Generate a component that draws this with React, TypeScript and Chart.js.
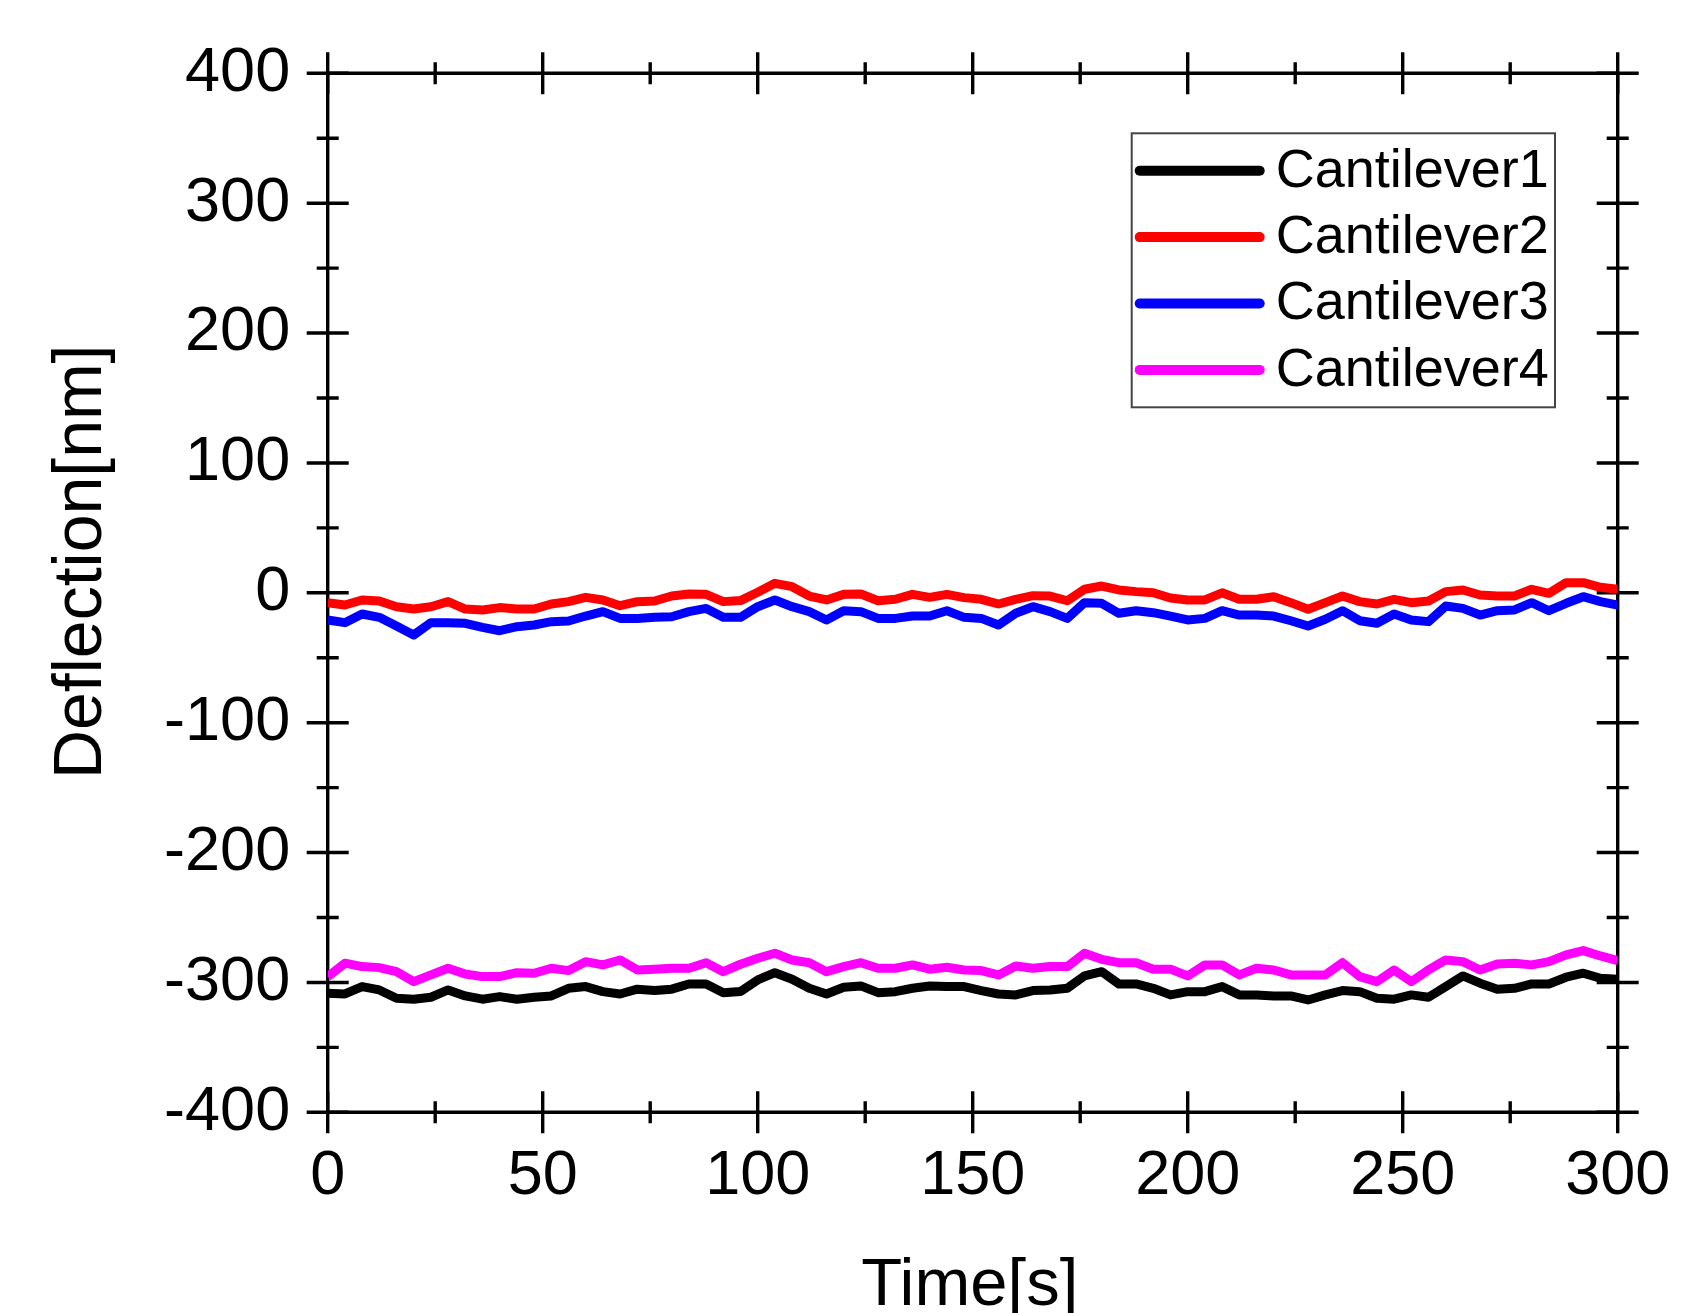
import React, { useEffect, useRef } from "react";
import { Chart, registerables } from "chart.js";

Chart.register(...registerables);

const times = [
  0, 4, 8, 12, 16, 20, 24, 28, 32, 36, 40, 44, 48, 52, 56, 60, 64, 68, 72, 76,
  80, 84, 88, 92, 96, 100, 104, 108, 112, 116, 120, 124, 128, 132, 136, 140, 144, 148, 152, 156,
  160, 164, 168, 172, 176, 180, 184, 188, 192, 196, 200, 204, 208, 212, 216, 220, 224, 228, 232, 236,
  240, 244, 248, 252, 256, 260, 264, 268, 272, 276, 280, 284, 288, 292, 296, 300,
];

const cantilever1 = [
  -308.3, -308.9, -303.2, -305.8, -312.2, -312.9, -311.4, -305.8, -310.4, -312.9,
  -310.9, -312.9, -311.4, -310.4, -304.5, -303.2, -307.1, -308.9, -305.2, -306.3,
  -305.2, -301.2, -301.2, -307.9, -307.0, -298.1, -292.5, -297.5, -304.5, -308.9,
  -303.7, -302.7, -307.9, -307.1, -304.5, -302.7, -303.2, -303.2, -306.3, -308.9,
  -309.6, -306.3, -305.8, -304.5, -295.0, -291.7, -301.2, -301.2, -304.5, -309.6,
  -307.1, -307.1, -303.2, -309.6, -309.6, -310.4, -310.4, -313.5, -309.6, -306.3,
  -307.1, -312.2, -312.9, -309.6, -311.4, -303.2, -295.0, -300.6, -305.2, -304.5,
  -301.2, -301.2, -296.0, -292.9, -296.8, -297.5,
];

const cantilever2 = [
  -7.6, -9.4, -5.5, -6.3, -10.7, -12.5, -10.7, -6.8, -12.5, -13.2,
  -11.4, -12.5, -12.5, -8.6, -6.8, -3.5, -5.5, -9.9, -6.8, -6.3,
  -2.5, -0.9, -1.2, -6.8, -6.0, 0.4, 7.3, 4.7, -2.5, -5.5,
  -1.2, -0.9, -6.1, -5.0, -1.2, -3.5, -1.2, -3.7, -5.0, -8.6,
  -5.0, -2.2, -2.5, -6.1, 2.7, 5.2, 2.2, 0.9, 0.0, -4.0,
  -5.5, -5.5, 0.0, -5.0, -5.0, -3.0, -7.6, -12.7, -7.6, -2.5,
  -6.8, -8.6, -5.0, -7.6, -6.3, 0.9, 2.2, -1.7, -2.5, -2.5,
  2.7, -0.4, 7.8, 7.8, 4.2, 2.7,
];

const cantilever3 = [
  -20.9, -23.0, -16.3, -18.9, -25.6, -32.5, -23.0, -23.0, -23.5, -26.6,
  -29.2, -26.1, -24.8, -22.2, -21.7, -17.9, -14.5, -19.7, -19.7, -18.9,
  -18.4, -14.5, -12.0, -18.9, -18.9, -10.7, -5.5, -10.7, -14.5, -20.9,
  -13.8, -14.5, -19.7, -19.7, -17.9, -17.9, -13.8, -18.9, -19.7, -24.8,
  -15.8, -10.7, -14.5, -19.7, -7.6, -8.1, -15.8, -13.8, -15.3, -17.9,
  -20.9, -19.7, -13.8, -17.1, -17.1, -17.9, -21.5, -25.6, -20.4, -13.8,
  -21.5, -23.5, -16.3, -20.9, -22.2, -10.2, -12.0, -17.1, -13.8, -13.2,
  -7.6, -13.8, -8.1, -3.0, -6.8, -9.4,
];

const cantilever4 = [
  -295.5, -285.2, -287.8, -288.6, -291.7, -299.4, -294.2, -289.1, -293.5, -295.5,
  -295.5, -292.5, -292.9, -289.1, -290.9, -284.0, -286.5, -282.7, -290.4, -289.8,
  -289.1, -289.1, -284.8, -291.7, -286.0, -281.4, -277.5, -282.7, -284.8, -291.7,
  -287.8, -284.8, -289.1, -289.1, -286.5, -289.8, -288.3, -290.4, -290.9, -294.2,
  -287.3, -289.1, -287.8, -287.8, -277.5, -282.2, -284.8, -284.8, -289.8, -289.8,
  -295.0, -286.5, -286.5, -294.2, -289.1, -290.4, -294.2, -294.2, -294.2, -284.8,
  -295.5, -299.4, -290.4, -299.4, -290.4, -282.7, -284.0, -290.4, -285.8, -285.2,
  -286.5, -284.0, -278.8, -275.5, -279.6, -283.2,
];

const seriesLabels = ["Cantilever1", "Cantilever2", "Cantilever3", "Cantilever4"];
const seriesColors = ["#000000", "#ff0000", "#0000ff", "#ff00ff"];
const xTitle = "Time[s]";
const yTitle = "Deflection[nm]";

const FONT = "'Liberation Sans', Arial, Helvetica, sans-serif";

const framePlugin = {
  id: "originFrame",
  beforeDatasetsDraw(chart: any) {
    const { ctx, chartArea } = chart;
    const { left, right, top, bottom } = chartArea;
    const xs = chart.scales.x;
    const ys = chart.scales.y;
    const MAJ = 21;
    const MIN = 11;
    ctx.save();
    ctx.strokeStyle = "#000";
    ctx.lineWidth = 3.4;
    ctx.lineCap = "butt";
    ctx.beginPath();
    ctx.rect(left, top, right - left, bottom - top);
    ctx.stroke();

    const xt = xs.ticks.map((t: any) => t.value);
    const yt = ys.ticks.map((t: any) => t.value);
    ctx.beginPath();
    xt.forEach((v: number, i: number) => {
      const p = xs.getPixelForValue(v);
      ctx.moveTo(p, bottom - MAJ);
      ctx.lineTo(p, bottom + MAJ);
      ctx.moveTo(p, top - MAJ);
      ctx.lineTo(p, top + MAJ);
      if (i < xt.length - 1) {
        const m = xs.getPixelForValue((v + xt[i + 1]) / 2);
        ctx.moveTo(m, bottom - MIN);
        ctx.lineTo(m, bottom + MIN);
        ctx.moveTo(m, top - MIN);
        ctx.lineTo(m, top + MIN);
      }
    });
    yt.forEach((v: number, i: number) => {
      const p = ys.getPixelForValue(v);
      ctx.moveTo(left - MAJ, p);
      ctx.lineTo(left + MAJ, p);
      ctx.moveTo(right - MAJ, p);
      ctx.lineTo(right + MAJ, p);
      if (i < yt.length - 1) {
        const m = ys.getPixelForValue((v + yt[i + 1]) / 2);
        ctx.moveTo(left - MIN, m);
        ctx.lineTo(left + MIN, m);
        ctx.moveTo(right - MIN, m);
        ctx.lineTo(right + MIN, m);
      }
    });
    ctx.stroke();
    ctx.restore();
  },
  afterDraw(chart: any) {
    const { ctx, chartArea } = chart;
    const { left, right, top, bottom } = chartArea;
    ctx.save();
    ctx.fillStyle = "#000";
    // axis titles
    ctx.font = `67px ${FONT}`;
    ctx.textAlign = "center";
    ctx.textBaseline = "alphabetic";
    ctx.fillText(xTitle, (left + right) / 2 - 3, bottom + 193);
    ctx.save();
    ctx.font = `68px ${FONT}`;
    ctx.translate(left - 227, (top + bottom) / 2 - 31);
    ctx.rotate(-Math.PI / 2);
    ctx.fillText(yTitle, 0, 0);
    ctx.restore();

    // legend box
    const bx = right - 486;
    const by = top + 60;
    const bw = 423.3;
    const bh = 274;
    ctx.fillStyle = "#fff";
    ctx.fillRect(bx, by, bw, bh);
    ctx.strokeStyle = "#444";
    ctx.lineWidth = 2;
    ctx.strokeRect(bx, by, bw, bh);
    const ds = chart.data.datasets;
    ctx.font = `54px ${FONT}`;
    ctx.textAlign = "left";
    ctx.textBaseline = "middle";
    ds.forEach((d: any, i: number) => {
      const ry = by + 37.4 + i * 66.4;
      ctx.strokeStyle = d.borderColor;
      ctx.lineWidth = 10;
      ctx.lineCap = "round";
      ctx.beginPath();
      ctx.moveTo(bx + 8, ry);
      ctx.lineTo(bx + 128, ry);
      ctx.stroke();
      ctx.fillStyle = "#000";
      ctx.fillText(d.label, bx + 144, ry + 1);
    });
    ctx.restore();
  },
};

export default function App() {
  const ref = useRef<HTMLCanvasElement | null>(null);

  useEffect(() => {
    if (!ref.current) return;
    const seriesValues = [cantilever1, cantilever2, cantilever3, cantilever4];
    const chart = new Chart(ref.current, {
      type: "line",
      data: {
        datasets: seriesValues.map((vals, k) => ({
          label: seriesLabels[k],
          data: times.map((t, i) => ({ x: t, y: vals[i] })),
          borderColor: seriesColors[k],
          backgroundColor: seriesColors[k],
          borderWidth: 9,
          pointRadius: 0,
          borderJoinStyle: "round" as const,
          borderCapStyle: "butt" as const,
          tension: 0,
          fill: false,
        })),
      },
      options: {
        animation: false,
        responsive: false,
        maintainAspectRatio: false,
        devicePixelRatio: 1,
        layout: { padding: { left: 0, top: 73.3, right: 73.3, bottom: 0 } },
        plugins: {
          legend: { display: false },
          tooltip: { enabled: false },
        },
        scales: {
          x: {
            type: "linear",
            min: 0,
            max: 300,
            grid: { display: false, drawTicks: false },
            border: { display: false },
            ticks: {
              stepSize: 50,
              color: "#000",
              padding: 27,
              maxRotation: 0,
              autoSkip: false,
              font: { family: FONT, size: 63 },
            },
            afterFit(scale: any) {
              scale.height = 200.7;
              scale.paddingLeft = 0;
              scale.paddingRight = 0;
            },
          },
          y: {
            type: "linear",
            min: -400,
            max: 400,
            grid: { display: false, drawTicks: false },
            border: { display: false },
            ticks: {
              stepSize: 100,
              color: "#000",
              padding: 37.5,
              autoSkip: false,
              font: { family: FONT, size: 63 },
            },
            afterFit(scale: any) {
              scale.width = 327.7;
              scale.paddingTop = 0;
              scale.paddingBottom = 0;
            },
          },
        },
      },
      plugins: [framePlugin],
    });
    return () => chart.destroy();
  }, []);

  return (
    <div style={{ position: "fixed", left: 0, top: 0, width: 1691, height: 1313, background: "#fff" }}>
      <canvas ref={ref} width={1691} height={1313} style={{ display: "block" }} />
    </div>
  );
}
